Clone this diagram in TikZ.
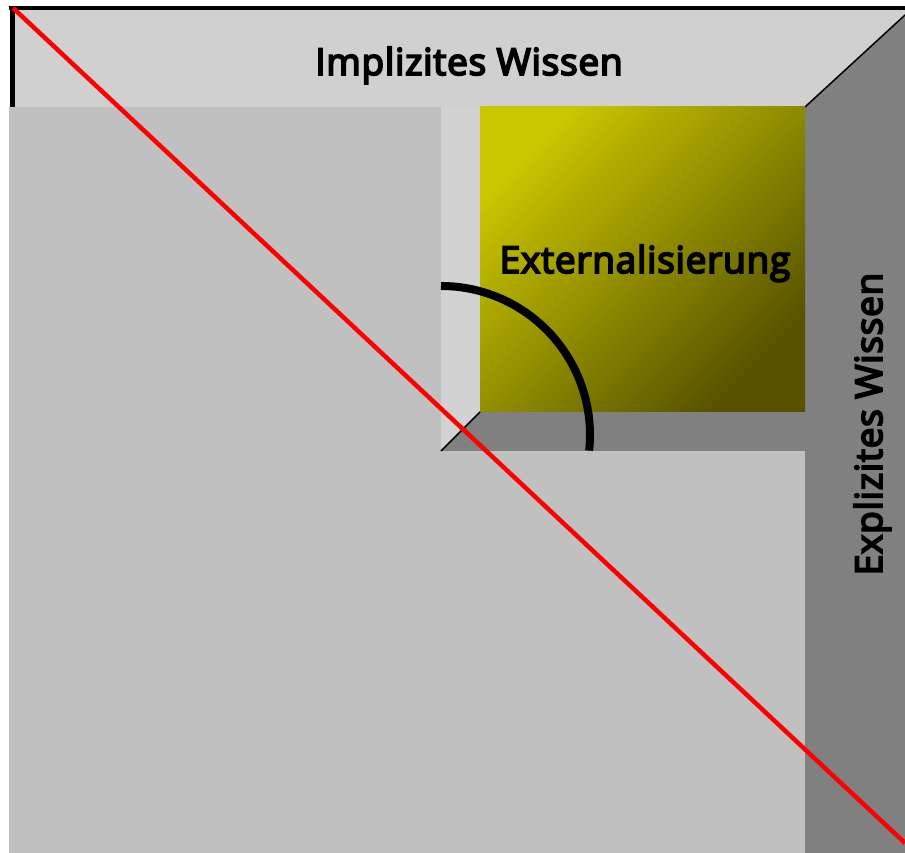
\documentclass[tikz,border=0pt]{standalone}
\usepackage{fontspec}
\setmainfont{Open Sans}
\newfontfamily\wissenfont{Open Sans}[FakeBold=5, LetterSpace=2]
\definecolor{hellgrau}{RGB}{208,208,208}
\definecolor{mittelgrau}{RGB}{192,192,192}
\definecolor{dunkelgrau}{RGB}{128,128,128}
\definecolor{gelbhell}{RGB}{202,198,0}
\definecolor{gelbdunkel}{RGB}{86,82,0}
\tikzset{
  wissen/.style={font=\wissenfont\fontsize{37}{40}\selectfont, anchor=base},
  kante/.style={black, line width=1.5pt}
}
\begin{document}
\begin{tikzpicture}[x=1pt,y=1pt]
\useasboundingbox (0,0) rectangle (905,853);
\fill[white] (0,0) rectangle (905,853);

% Decke und Wand
\fill[hellgrau] (15,843) -- (905,843) -- (905,838) -- (805,746) -- (15,746) -- cycle;
\fill[dunkelgrau] (805,746) -- (905,838) -- (905,0) -- (805,0) -- cycle;
\draw[kante] (805,746) -- (905,838);
\draw[black, line width=4pt] (9,845) -- (905,845);
\draw[black, line width=5pt] (12,847) -- (12,746);

% Boden
\fill[mittelgrau] (9,0) rectangle (441,746);
\fill[mittelgrau] (9,0) rectangle (805,402);

% innere Ecke
\fill[hellgrau!95!white] (441,402) rectangle (480,746);
\fill[dunkelgrau] (441,402) -- (480,441) -- (805,441) -- (805,402) -- cycle;
\draw[kante] (441,402) -- (480,441);
\shade[top color=gelbhell, bottom color=gelbdunkel, shading angle=45] (480,441) rectangle (805,746);

\draw[black, line width=8pt] (441,567) arc (90:-6:149);

\node[wissen] (implizit) at (469,778) {Implizites Wissen};
\node[wissen] (extern) at (645,580) {Externalisierung};
\node[wissen, rotate=90] (explizit) at (882,429) {Explizites Wissen};

\draw[red, line width=4.5pt] (13,845) -- (905,10);
\end{tikzpicture}
\end{document}
